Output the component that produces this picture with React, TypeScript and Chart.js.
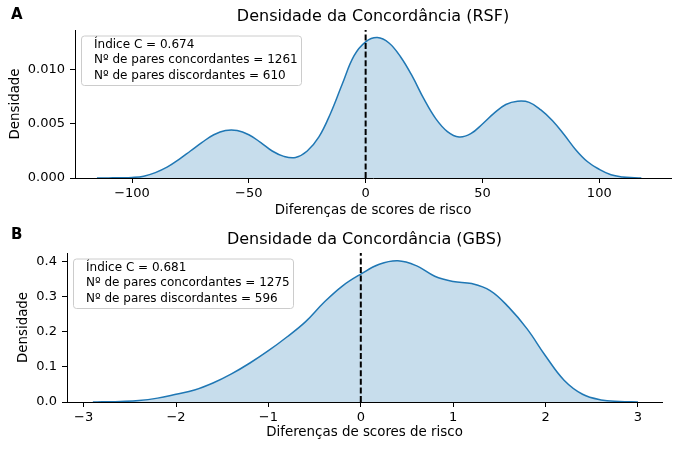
import { useEffect, useRef } from 'react';
import { Chart, registerables } from 'chart.js';

Chart.register(...registerables);

// ---------- data ----------
const rsfX = [-115, -110, -105, -100, -95, -90, -85, -80, -75, -70, -65, -60, -55, -50, -45, -40, -35, -30, -25, -20, -15, -10, -5, 0, 5, 10, 15, 20, 25, 30, 35, 40, 45, 50, 55, 60, 65, 70, 75, 80, 85, 90, 95, 100, 105, 110, 115, 118];
const rsfDensity = [0, 0.00001, 0.00002, 0.00005, 0.00017, 0.0005, 0.001, 0.0017, 0.0025, 0.0033, 0.004, 0.0044, 0.0044, 0.004, 0.0033, 0.0025, 0.002, 0.0019, 0.0025, 0.0038, 0.006, 0.0087, 0.0113, 0.0126, 0.013, 0.0125, 0.0112, 0.0094, 0.0073, 0.0055, 0.0043, 0.0038, 0.0041, 0.005, 0.006, 0.0068, 0.0071, 0.007, 0.0063, 0.0053, 0.004, 0.0026, 0.0015, 0.0008, 0.0003, 0.0001, 0.00003, 0];

const gbsX = [-2.9, -2.8, -2.6, -2.4, -2.2, -2.0, -1.8, -1.6, -1.4, -1.2, -1.0, -0.8, -0.6, -0.4, -0.2, 0.0, 0.2, 0.4, 0.6, 0.8, 1.0, 1.2, 1.4, 1.6, 1.8, 2.0, 2.2, 2.4, 2.6, 2.8, 3.0];
const gbsDensity = [0, 0.0005, 0.0015, 0.004, 0.011, 0.022, 0.034, 0.054, 0.08, 0.111, 0.146, 0.185, 0.228, 0.283, 0.33, 0.364, 0.392, 0.402, 0.388, 0.358, 0.343, 0.337, 0.317, 0.27, 0.208, 0.131, 0.062, 0.022, 0.006, 0.0015, 0];

const rsfXTicks = [-100, -50, 0, 50, 100];
const rsfYTicks = [0, 0.005, 0.01];
const gbsXTicks = [-3, -2, -1, 0, 1, 2, 3];
const gbsYTicks = [0, 0.1, 0.2, 0.3, 0.4];

const rsfLegend = ['Índice C = 0.674', 'Nº de pares concordantes = 1261', 'Nº de pares discordantes = 610'];
const gbsLegend = ['Índice C = 0.681', 'Nº de pares concordantes = 1275', 'Nº de pares discordantes = 596'];

const rsfTitle = 'Densidade da Concordância (RSF)';
const gbsTitle = 'Densidade da Concordância (GBS)';
const xLabel = 'Diferenças de scores de risco';
const yLabel = 'Densidade';
const vlineX = 0;

const FONT = '"DejaVu Sans", sans-serif';
const LINE = '#1f77b4';
const FILL = 'rgba(31,119,180,0.25)';

const overlay = {
  id: 'overlay',
  afterDraw(chart: any, _args: any, opts: any) {
    const { ctx, chartArea } = chart;
    ctx.save();
    ctx.fillStyle = '#000';
    ctx.textBaseline = 'middle';
    ctx.font = `16px ${FONT}`;
    ctx.textAlign = 'center';
    ctx.fillText(opts.title, (chartArea.left + chartArea.right) / 2, chartArea.top - 13);
    ctx.font = `bold 15px ${FONT}`;
    ctx.textAlign = 'left';
    ctx.fillText(opts.letter, 11, opts.letterY);
    // legend
    const bx = chartArea.left + 6.5;
    const by = chartArea.top + 6;
    const bw = 220;
    const bh = 49.5;
    ctx.beginPath();
    ctx.roundRect(bx, by, bw, bh, 3);
    ctx.fillStyle = 'rgba(255,255,255,0.8)';
    ctx.fill();
    ctx.strokeStyle = '#cccccc';
    ctx.lineWidth = 1;
    ctx.stroke();
    ctx.fillStyle = '#000';
    ctx.font = `12px ${FONT}`;
    (opts.lines as string[]).forEach((t, i) => {
      ctx.fillText(t, bx + 12.5, by + 8.8 + i * 15.5);
    });
    ctx.restore();
  },
};

type PanelProps = {
  xs: number[];
  ys: number[];
  xTicks: number[];
  yTicks: number[];
  xMin: number;
  xMax: number;
  yMax: number;
  yDecimals: number;
  left: number;
  right: number;
  top: number;
  bottom: number;
  height: number;
  xTitlePad: number;
  yTitlePad: number;
  title: string;
  letter: string;
  letterY: number;
  lines: string[];
};

const fmtX = (v: number) => (v < 0 ? '\u2212' + Math.abs(v) : String(v));

function Panel(p: PanelProps) {
  const ref = useRef<HTMLCanvasElement | null>(null);
  useEffect(() => {
    if (!ref.current) return;
    const pts = p.xs.map((x, i) => ({ x, y: p.ys[i] }));
    const chart = new Chart(ref.current, {
      type: 'line',
      data: {
        datasets: [
          {
            data: [
              { x: vlineX, y: 0 },
              { x: vlineX, y: p.yMax },
            ],
            borderColor: '#000',
            borderWidth: 2,
            borderDash: [6, 2.6],
            pointRadius: 0,
            fill: false,
            tension: 0,
          },
          {
            data: pts,
            borderColor: LINE,
            borderWidth: 1.5,
            backgroundColor: FILL,
            fill: 'origin',
            pointRadius: 0,
            tension: 0.4,
          },
        ],
      },
      options: {
        animation: false,
        responsive: false,
        devicePixelRatio: window.devicePixelRatio || 1,
        layout: { padding: { left: 0, right: 680 - p.right, top: p.top, bottom: 0 } },
        plugins: {
          legend: { display: false },
          tooltip: { enabled: false },
          overlay: { title: p.title, letter: p.letter, letterY: p.letterY, lines: p.lines },
        } as any,
        scales: {
          x: {
            type: 'linear',
            min: p.xMin,
            max: p.xMax,
            afterBuildTicks: (s: any) => {
              s.ticks = p.xTicks.map((v) => ({ value: v }));
            },
            afterFit: (s: any) => {
              s.height = p.height - p.bottom;
            },
            grid: { drawOnChartArea: false, drawTicks: true, tickLength: 5, color: '#000', lineWidth: 1 },
            border: { display: true, color: '#000', width: 1 },
            ticks: {
              color: '#000',
              font: { family: FONT, size: 13 },
              padding: 3,
              maxRotation: 0,
              autoSkip: false,
              callback: (v: any) => fmtX(Number(v)),
            },
            title: {
              display: true,
              text: xLabel,
              color: '#000',
              font: { family: FONT, size: 13.4 },
              padding: { top: 0, bottom: p.xTitlePad },
            },
          },
          y: {
            type: 'linear',
            min: 0,
            max: p.yMax,
            afterBuildTicks: (s: any) => {
              s.ticks = p.yTicks.map((v) => ({ value: v }));
            },
            afterFit: (s: any) => {
              s.width = p.left;
            },
            grid: { drawOnChartArea: false, drawTicks: true, tickLength: 5, color: '#000', lineWidth: 1 },
            border: { display: true, color: '#000', width: 1 },
            ticks: {
              color: '#000',
              font: { family: FONT, size: 13 },
              padding: 5,
              autoSkip: false,
              callback: (v: any) => Number(v).toFixed(p.yDecimals),
            },
            title: {
              display: true,
              text: yLabel,
              color: '#000',
              font: { family: FONT, size: 13.4 },
              padding: { top: p.yTitlePad, bottom: 0 },
            },
          },
        },
      },
      plugins: [overlay as any],
    });
    return () => chart.destroy();
  }, []);
  return (
    <canvas
      ref={ref}
      width={680}
      height={p.height}
      style={{ display: 'block', width: 680, height: p.height }}
    />
  );
}

export default function App() {
  return (
    <div style={{ position: 'absolute', left: 0, top: 0, width: 680, height: 454, background: '#fff' }}>
      <Panel
        xs={rsfX}
        ys={rsfDensity}
        xTicks={rsfXTicks}
        yTicks={rsfYTicks}
        xMin={-124.4}
        xMax={130.7}
        yMax={0.0137}
        yDecimals={3}
        left={75}
        right={671}
        top={30}
        bottom={178}
        height={227}
        xTitlePad={8}
        yTitlePad={7.5}
        title={rsfTitle}
        letter="A"
        letterY={15}
        lines={rsfLegend}
      />
      <Panel
        xs={gbsX}
        ys={gbsDensity}
        xTicks={gbsXTicks}
        yTicks={gbsYTicks}
        xMin={-3.18}
        xMax={3.26}
        yMax={0.424}
        yDecimals={1}
        left={67}
        right={662}
        top={26}
        bottom={175}
        height={227}
        xTitlePad={13.5}
        yTitlePad={15}
        title={gbsTitle}
        letter="B"
        letterY={8}
        lines={gbsLegend}
      />
    </div>
  );
}
